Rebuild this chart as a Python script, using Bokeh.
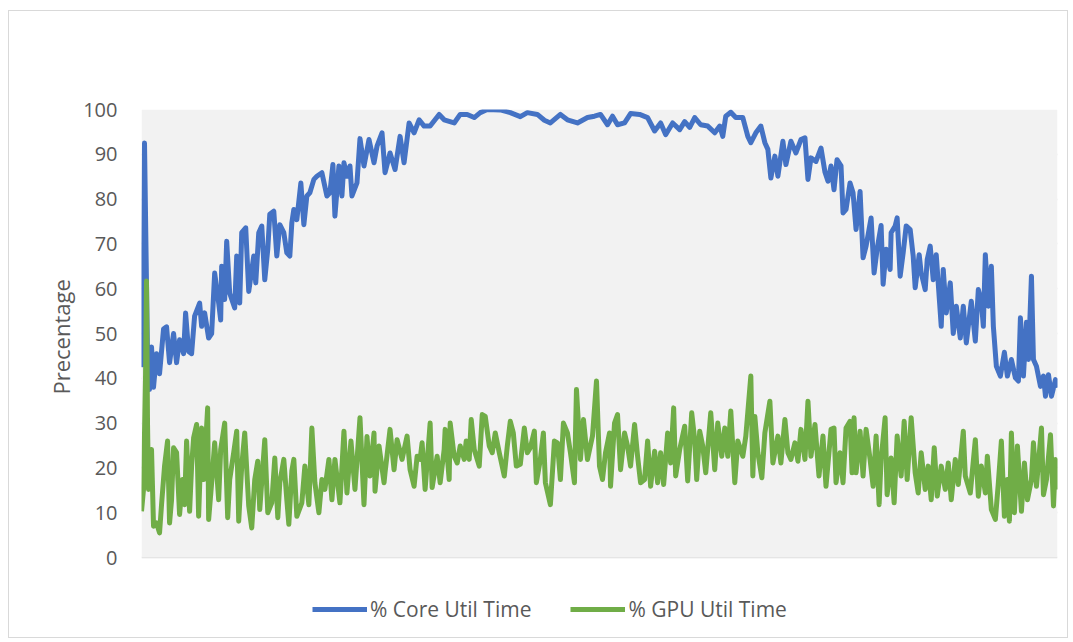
from bokeh.plotting import figure
from bokeh.models import Range1d, Legend, LegendItem, ColumnDataSource, BoxAnnotation, Title
from bokeh.embed import file_html
from bokeh.resources import INLINE

# sample index (time) and % values
core_t = [0, 1, 3, 6, 8, 10, 12, 15, 18, 22, 25, 28, 32, 35, 38, 42, 44, 47, 50, 53, 58, 60, 63, 67, 70,
          73, 77, 79, 80, 83, 85, 88, 93, 95, 98, 100, 104, 107, 112, 114, 117, 120, 123, 126, 128, 132,
          135, 138, 142, 145, 148, 150, 152, 155, 159, 162, 165, 168, 172, 175, 180, 185, 188, 191, 193,
          197, 200, 202, 205, 208, 210, 215, 218, 222, 227, 232, 235, 240, 243, 248, 253, 258, 262, 267,
          272, 277, 282, 288, 297, 302, 312, 318, 325, 332, 338, 345, 358, 368, 378, 385, 395, 402, 408,
          418, 425, 435, 445, 452, 458, 465, 470, 475, 482, 488, 497, 505, 512, 518, 523, 530, 537, 542,
          547, 552, 558, 565, 572, 577, 580, 583, 588, 593, 600, 605, 608, 613, 618, 622, 625, 628, 632,
          635, 640, 643, 648, 653, 658, 662, 665, 668, 673, 678, 682, 685, 688, 691, 694, 698, 700, 703,
          707, 710, 713, 717, 720, 723, 728, 731, 734, 738, 740, 743, 747, 748, 752, 754, 757, 760, 763,
          767, 770, 772, 776, 778, 782, 784, 787, 790, 793, 798, 800, 803, 807, 810, 813, 817, 820, 823,
          828, 832, 835, 838, 840, 842, 845, 848, 850, 853, 857, 861, 864, 868, 872, 875, 877, 880, 883,
          885, 888, 890, 893, 897, 900, 902, 905, 908, 912, 914]
core_v = [56.5, 43, 92.5, 45, 37.5, 47, 38, 45.5, 41, 51, 51.5, 43.5, 50, 43.5, 48.6, 45.5, 54.6, 46, 45.5,
          53.9, 56.8, 51.6, 54.6, 49, 50, 63.5, 56.8, 53, 65, 57.6, 70.6, 59, 55.7, 67.3, 56.8, 72.5, 73.6,
          59.4, 67.3, 61.3, 72.5, 74, 62, 68.8, 76.6, 77.3, 67.3, 74.3, 72.5, 68, 67.3, 74.7, 77.7, 75.4,
          83.6, 74.3, 80.7, 81.4, 84.4, 85.1, 85.9, 80.7, 81.4, 87.7, 76.2, 87.4, 80.7, 88.1, 85.1, 87.4,
          80.7, 83.6, 93.5, 87.4, 93.3, 88.1, 91.8, 94.8, 85.9, 90.3, 86.6, 94, 88.1, 97, 94.8, 97.7, 96.3,
          96.3, 98.9, 97.7, 97, 98.9, 98.9, 98.2, 99.3, 100, 99.9, 99.3, 98.4, 99.3, 98.9, 97.6, 97, 98.9,
          97.7, 97, 98.2, 98.5, 98.9, 96.6, 98.5, 96.6, 97, 99.1, 98.9, 98.2, 95.2, 97, 94.4, 97, 95.5,
          97.3, 96, 98.2, 96.6, 96.3, 94.8, 96.3, 94, 98.5, 99.4, 98.2, 98.2, 94, 92.6, 94.8, 96.3, 92.6,
          91.1, 84.7, 89.6, 85.1, 92.9, 87.7, 92.9, 90.3, 93.3, 93.7, 84.4, 89.2, 88.4, 91.4, 86, 84, 87.4,
          82.1, 88.8, 87.4, 76.9, 77.7, 83.6, 81.4, 73.2, 81.7, 66.9, 69.5, 75.8, 63.5, 68.8, 74.1, 61,
          68.8, 64.3, 72.5, 74, 75.8, 62.8, 68, 74, 73.2, 67.3, 60.2, 67.6, 63.5, 59.8, 66.5, 69.5, 62,
          67.6, 51.6, 64.3, 54.6, 61.3, 50, 56.1, 49, 56.1, 47.9, 57.2, 48.3, 59.8, 57.2, 51.6, 67.6, 56.1,
          65, 51.6, 42.7, 40.5, 45.8, 40.5, 44.2, 40.1, 39.4, 53.5, 40.5, 52.5, 44.2, 62.8, 44.2, 42.7,
          38.2, 40.5, 36, 40.8, 36, 39.7, 37.9]

gpu_t = [0, 2, 4, 5, 6, 7, 10, 12, 15, 18, 20, 23, 26, 28, 30, 32, 35, 38, 41, 43, 45, 48, 50, 52, 55,
         57, 60, 62, 66, 67, 70, 73, 77, 79, 83, 86, 88, 92, 95, 97, 100, 103, 107, 110, 113, 116, 118,
         123, 126, 130, 133, 136, 138, 142, 145, 147, 150, 152, 155, 160, 163, 167, 170, 173, 177, 180,
         183, 187, 190, 193, 198, 202, 205, 209, 213, 218, 222, 225, 228, 232, 233, 237, 242, 243, 248,
         252, 255, 260, 265, 268, 272, 275, 278, 280, 283, 288, 290, 295, 298, 302, 303, 307, 308, 312,
         315, 318, 322, 324, 327, 329, 332, 337, 340, 343, 347, 350, 353, 357, 362, 365, 368, 371, 374,
         378, 382, 385, 388, 392, 394, 398, 401, 403, 408, 412, 415, 418, 421, 425, 428, 432, 434, 438,
         441, 445, 450, 454, 457, 460, 463, 467, 468, 472, 475, 478, 482, 485, 488, 492, 495, 498, 502,
         505, 508, 512, 515, 518, 521, 525, 528, 531, 533, 537, 542, 545, 549, 552, 554, 557, 560, 563,
         568, 572, 575, 579, 582, 585, 588, 592, 595, 600, 603, 608, 610, 612, 615, 619, 622, 627, 630,
         635, 638, 642, 645, 648, 652, 655, 658, 662, 665, 668, 672, 676, 680, 683, 688, 691, 693, 697,
         700, 703, 707, 709, 711, 713, 717, 720, 723, 727, 730, 733, 736, 738, 742, 744, 748, 751, 754,
         758, 761, 764, 768, 772, 775, 778, 782, 785, 788, 791, 794, 798, 802, 805, 808, 812, 815, 820,
         822, 827, 832, 835, 838, 842, 844, 848, 852, 855, 858, 861, 864, 866, 868, 871, 874, 878, 881,
         884, 888, 890, 893, 898, 900, 903, 907, 910, 912, 914]
gpu_v = [10.3, 15.2, 40, 61.7, 30, 15.2, 24.1, 7, 7.7, 5.5, 11.8, 20.4, 26, 7.7, 12.9, 24.5, 23.4, 9.6,
         17.4, 11.8, 26, 10.3, 20.4, 26.7, 29.7, 9.2, 28.9, 17.4, 33.4, 8.5, 16.7, 25.6, 12.9, 24.1, 30,
         8.9, 17.4, 23.4, 28.2, 8.1, 20.4, 27.8, 11.5, 6.6, 17.4, 21.5, 10.7, 26.3, 10, 12.2, 22.2, 8.9,
         16.7, 21.9, 12.9, 7.4, 19.3, 21.9, 9.2, 12.2, 20.4, 11.8, 28.9, 16.7, 10, 17.4, 15.2, 21.9, 12.9,
         21.9, 12.2, 28.2, 14.4, 26, 15.2, 31.2, 11.8, 27, 18.2, 27.8, 14.8, 24.9, 16.7, 18.9, 28.6, 19.6,
         26.3, 21.9, 27.1, 19.6, 15.9, 22.6, 21.9, 25.6, 15.2, 30, 15.6, 22.6, 16.7, 24.1, 28.6, 17.4, 30,
         22.6, 21.1, 24.9, 21.9, 26, 21.9, 30.8, 24.1, 20.4, 31.9, 31.5, 24.9, 23.4, 27.8, 23.4, 18.2,
         24.9, 30.4, 27.8, 20.4, 20.8, 28.9, 23.4, 24.5, 28.2, 16.7, 21.9, 27.8, 16.7, 11.8, 26, 25.6,
         17.4, 30, 27.8, 23.4, 16.7, 37.5, 21.9, 30.8, 21.9, 27.1, 39.4, 20.4, 17.4, 23.4, 27.8, 15.9, 30,
         31.9, 19.6, 27.8, 24.9, 20.4, 29.7, 22.6, 16.7, 17.4, 26, 15.9, 23.7, 16.7, 23.4, 16.3, 27.8,
         21.1, 33.4, 18.2, 24.1, 29.3, 17.1, 32.3, 26.3, 17.4, 28.2, 24.9, 18.9, 32.3, 19.6, 30, 22.6,
         28.9, 22.6, 32.7, 16.7, 26, 22.6, 27.1, 40.5, 18.2, 31.5, 23.4, 17.8, 27.8, 34.9, 21.1, 27.1,
         21.1, 30.8, 23.4, 21.9, 25.6, 21.5, 28.6, 21.9, 34.9, 22.6, 29.7, 18.2, 27.1, 15.9, 28.6, 28.9,
         16.7, 23.4, 16.7, 28.9, 30.4, 18.9, 31.2, 18.9, 28.2, 18.2, 28.6, 21.9, 15.9, 27.1, 11.8, 21.9,
         31.2, 14, 22.2, 12.2, 27.1, 18.2, 30.4, 17.4, 31.2, 18.9, 14.4, 23.4, 15.2, 20.4, 12.9, 24.5,
         13.7, 20.4, 15.2, 21.1, 12.9, 21.9, 16.3, 28.2, 18.2, 14.4, 26.3, 13.7, 20.4, 14.4, 22.6, 10.7,
         8.5, 16.7, 26, 9.2, 17.4, 8.1, 27.8, 10, 24.9, 10.3, 21.1, 12.9, 17.4, 25.6, 15.9, 28.9, 14, 17.4,
         27.4, 11.5, 21.9, 15.2]

y_ticks = [0, 10, 20, 30, 40, 50, 60, 70, 80, 90, 100]
y_title = "Precentage"
series_names = ["% Core Util Time", "% GPU Util Time"]
series_colors = ["#4472C4", "#70AD47"]

FONT = "Open Sans"
TXT = "#595959"

# frame extends below 0 so the legend can sit inside it (unclipped)
p = figure(width=1060, height=628, output_backend="svg", toolbar_location=None,
           x_range=Range1d(0, 914), y_range=Range1d(-16.07, 100),
           min_border_left=132, min_border_right=12, min_border_top=98, min_border_bottom=10)
p.styles = {"border": "1px solid #d9d9d9", "box-sizing": "border-box",
            "margin-left": "8px", "margin-top": "10px"}
p.background_fill_color = "white"
p.border_fill_color = "white"
p.outline_line_color = None

# grey plot area 0..100
p.add_layout(BoxAnnotation(bottom=0, top=100, fill_color="#f2f2f2", fill_alpha=1,
                           line_color=None, level="underlay"))

p.xaxis.visible = False
p.xgrid.visible = False
p.ygrid.grid_line_color = "#d9d9d9"
p.ygrid.grid_line_width = 1.3
p.yaxis.ticker = y_ticks
p.yaxis.axis_line_color = None
p.yaxis.major_tick_line_color = None
p.yaxis.minor_tick_line_color = None
p.yaxis.major_label_text_font = FONT
p.yaxis.major_label_text_font_size = "20px"
p.yaxis.major_label_text_color = TXT
p.yaxis.major_label_standoff = 18

p.add_layout(Title(text=y_title, align="left", offset=235, standoff=10,
                   text_font=FONT, text_font_size="22px", text_font_style="normal",
                   text_color=TXT), "left")

src_core = ColumnDataSource(dict(t=core_t, v=core_v))
src_gpu = ColumnDataSource(dict(t=gpu_t, v=gpu_v))
r1 = p.line("t", "v", source=src_core, line_color=series_colors[0], line_width=5, line_join="round")
r2 = p.line("t", "v", source=src_gpu, line_color=series_colors[1], line_width=5, line_join="round")

legend = Legend(items=[LegendItem(label=series_names[0], renderers=[r1]),
                       LegendItem(label=series_names[1], renderers=[r2])],
                orientation="horizontal", location=(171, 6),
                glyph_width=55, glyph_height=20, label_standoff=3, spacing=39,
                padding=0, margin=0, border_line_color=None, background_fill_alpha=0,
                label_text_font=FONT, label_text_font_size="21px", label_text_color=TXT)
p.add_layout(legend, "center")

open("out.html", "w").write(file_html(p, INLINE))
